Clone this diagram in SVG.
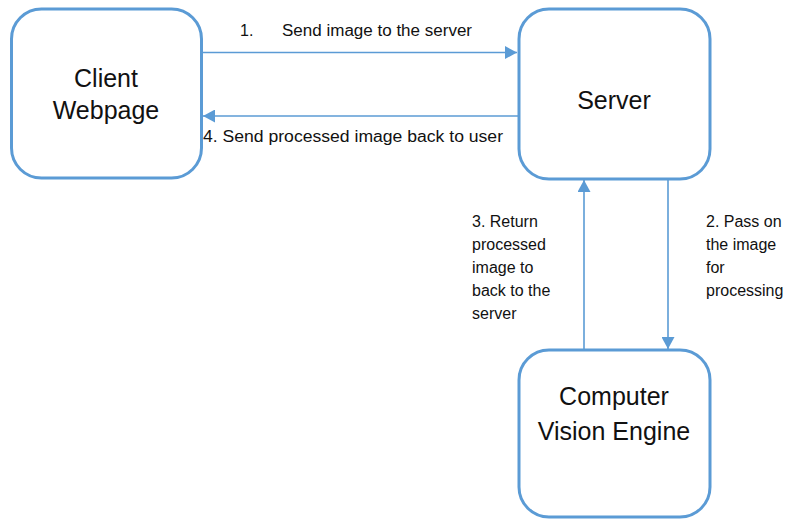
<svg xmlns="http://www.w3.org/2000/svg" width="789" height="519" viewBox="0 0 789 519">
<defs>
<style>
.node{fill:#fff;stroke:#5B9BD5;stroke-width:3}
.conn{fill:none;stroke:#5B9BD5;stroke-width:1.6}
.nt{font-family:"Liberation Sans",Arial,sans-serif;font-size:25px;fill:#111;text-anchor:middle}
.lt{font-family:"Liberation Sans",Arial,sans-serif;font-size:16px;fill:#111}
</style>
<marker id="ah" viewBox="0 0 12 13" refX="12" refY="6.5" markerWidth="12" markerHeight="13" markerUnits="userSpaceOnUse" orient="auto">
<path d="M0,0 L12,6.5 L0,13 Z" fill="#5B9BD5"/>
</marker>
</defs>
<rect width="789" height="519" fill="#fff"/>
<g id="connectors">
<line class="conn" x1="202" y1="52.5" x2="517" y2="52.5" marker-end="url(#ah)"/>
<line class="conn" x1="518" y1="116" x2="203" y2="116" marker-end="url(#ah)"/>
<line class="conn" x1="668" y1="180" x2="668" y2="349" marker-end="url(#ah)"/>
<line class="conn" x1="584" y1="349" x2="584" y2="180" marker-end="url(#ah)"/>
<text class="lt" x="240" y="36">1.</text>
<text class="lt" x="282" y="36" textLength="190" lengthAdjust="spacingAndGlyphs">Send image to the server</text>
<text class="lt" x="203" y="142" textLength="300" lengthAdjust="spacingAndGlyphs">4. Send processed image back to user</text>
<text class="lt" x="706" y="227">2. Pass on</text>
<text class="lt" x="706" y="250">the image</text>
<text class="lt" x="706" y="273">for</text>
<text class="lt" x="706" y="296">processing</text>
<text class="lt" x="472" y="227">3. Return</text>
<text class="lt" x="472" y="250">processed</text>
<text class="lt" x="472" y="273">image to</text>
<text class="lt" x="472" y="296">back to the</text>
<text class="lt" x="472" y="319">server</text>
</g>
<g id="client">
<rect class="node" x="11.5" y="9" width="190" height="169" rx="30"/>
<text class="nt" x="106" y="87">Client</text>
<text class="nt" x="106" y="119">Webpage</text>
</g>
<g id="server">
<rect class="node" x="519" y="9" width="191" height="170" rx="30"/>
<text class="nt" x="614" y="109">Server</text>
</g>
<g id="engine">
<rect class="node" x="519" y="350" width="191" height="167" rx="30"/>
<text class="nt" x="614" y="405">Computer</text>
<text class="nt" x="614" y="440">Vision Engine</text>
</g>
</svg>
